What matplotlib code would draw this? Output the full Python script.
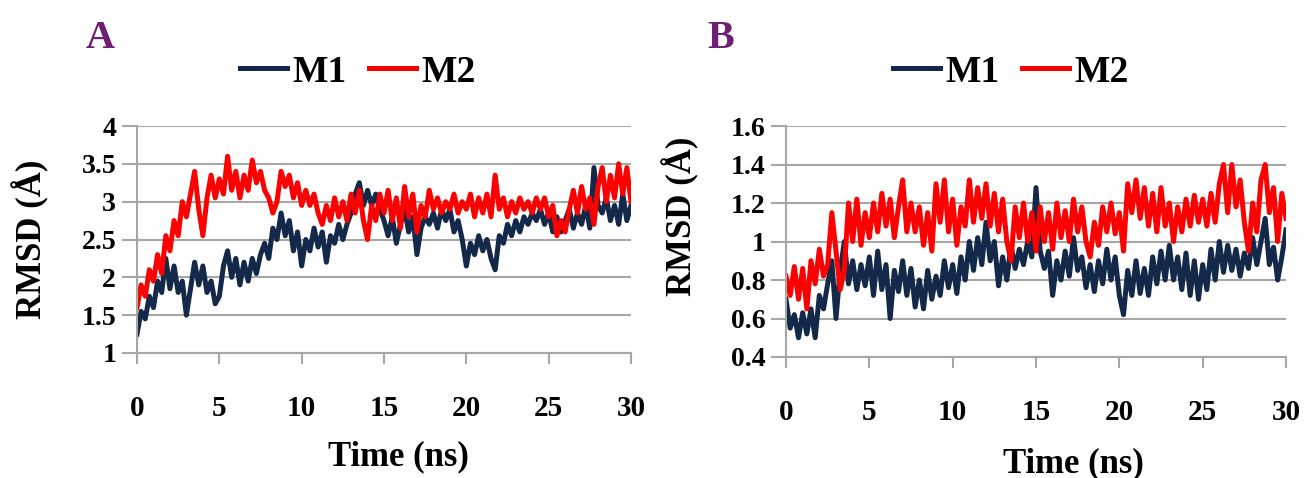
import numpy as np
import matplotlib
matplotlib.use('Agg')
import matplotlib.pyplot as plt

# time axis (ns), values read every 0.25 ns
time_ns = np.arange(121) * 0.25

a_m1 = [1.25, 1.55, 1.45, 1.75, 1.60, 1.95, 1.80, 2.25, 1.85, 2.15, 1.80, 1.95, 1.50, 1.85, 2.20, 1.90,
        2.15, 1.80, 1.95, 1.65, 1.75, 2.15, 2.35, 2.00, 2.25, 1.90, 2.20, 1.95, 2.25, 2.05, 2.30, 2.45,
        2.25, 2.65, 2.50, 2.85, 2.55, 2.75, 2.35, 2.60, 2.15, 2.50, 2.35, 2.65, 2.40, 2.60, 2.20, 2.55,
        2.45, 2.70, 2.50, 2.70, 2.85, 3.10, 3.25, 2.95, 3.15, 2.95, 3.10, 2.90, 2.75, 2.55, 2.80, 2.45,
        2.70, 2.90, 2.60, 2.80, 2.30, 2.65, 2.80, 2.70, 2.85, 2.65, 2.90, 2.75, 2.90, 2.60, 2.75, 2.50,
        2.15, 2.45, 2.30, 2.55, 2.35, 2.50, 2.25, 2.10, 2.55, 2.45, 2.70, 2.55, 2.75, 2.60, 2.80, 2.70,
        2.85, 2.75, 2.90, 2.70, 2.85, 2.60, 2.80, 2.60, 2.75, 2.90, 2.65, 2.85, 2.70, 2.95, 2.65, 3.45,
        2.95, 2.85, 3.05, 2.75, 2.95, 2.70, 3.10, 2.75, 2.95]
a_m2 = [1.60, 1.90, 1.75, 2.10, 1.95, 2.30, 2.05, 2.55, 2.35, 2.75, 2.55, 3.00, 2.80, 3.10, 3.40, 2.90,
        2.55, 3.05, 3.35, 3.05, 3.30, 3.10, 3.60, 3.15, 3.40, 3.05, 3.35, 3.15, 3.55, 3.25, 3.40, 3.15,
        3.05, 2.85, 3.00, 3.40, 3.20, 3.35, 3.05, 3.25, 2.95, 3.15, 2.95, 3.10, 2.85, 2.70, 2.95, 2.75,
        3.05, 2.80, 3.00, 2.75, 3.10, 2.85, 3.15, 2.75, 2.50, 2.95, 2.75, 3.10, 2.85, 3.15, 2.75, 3.05,
        2.65, 3.20, 2.80, 3.10, 2.60, 2.95, 2.80, 3.15, 2.90, 3.05, 2.85, 3.00, 2.90, 3.10, 2.85, 3.00,
        2.90, 3.10, 2.80, 3.05, 2.85, 3.10, 2.80, 3.35, 2.90, 3.05, 2.80, 3.00, 2.85, 3.05, 2.90, 3.00,
        2.85, 3.05, 2.90, 3.05, 2.80, 2.95, 2.55, 2.75, 2.60, 2.90, 3.15, 2.85, 3.20, 2.90, 3.05, 2.70,
        3.20, 3.45, 3.00, 3.35, 3.05, 3.50, 3.10, 3.45, 3.00]

b_m1 = [0.70, 0.55, 0.62, 0.50, 0.63, 0.52, 0.65, 0.50, 0.72, 0.65, 0.78, 0.90, 0.60, 0.85, 1.00, 0.78,
        0.90, 0.75, 0.88, 0.77, 0.92, 0.72, 0.95, 0.75, 0.88, 0.60, 0.85, 0.74, 0.90, 0.72, 0.86, 0.66,
        0.80, 0.65, 0.85, 0.70, 0.82, 0.72, 0.90, 0.76, 0.88, 0.73, 0.92, 0.80, 1.00, 0.85, 1.02, 0.88,
        1.10, 0.90, 1.00, 0.77, 0.92, 0.80, 0.98, 0.86, 0.96, 0.88, 1.00, 0.92, 1.28, 0.95, 0.86, 0.95,
        0.72, 0.90, 0.80, 0.95, 0.82, 1.02, 0.85, 0.92, 0.76, 0.88, 0.74, 0.90, 0.78, 0.96, 0.80, 0.92,
        0.72, 0.62, 0.85, 0.72, 0.90, 0.73, 0.86, 0.72, 0.92, 0.78, 0.95, 0.80, 0.98, 0.80, 0.92, 0.75,
        0.94, 0.72, 0.90, 0.70, 0.88, 0.75, 0.96, 0.80, 1.00, 0.84, 0.98, 0.85, 0.96, 0.82, 0.94, 0.86,
        1.02, 0.88, 1.00, 1.12, 0.88, 0.97, 0.80, 0.92, 1.06]
b_m2 = [0.82, 0.72, 0.87, 0.70, 0.86, 0.65, 0.90, 0.78, 0.96, 0.82, 0.88, 1.15, 0.95, 0.75, 0.85, 1.20,
        1.00, 1.22, 0.98, 1.15, 1.02, 1.20, 1.05, 1.25, 1.08, 1.22, 1.02, 1.18, 1.32, 1.05, 1.20, 1.05,
        1.18, 0.98, 1.15, 0.95, 1.30, 1.10, 1.32, 1.05, 1.22, 0.98, 1.18, 1.08, 1.32, 1.10, 1.28, 1.12,
        1.30, 1.08, 1.25, 1.05, 1.22, 1.00, 0.90, 1.18, 1.02, 1.20, 1.00, 1.15, 0.95, 1.18, 1.00, 1.15,
        0.96, 1.20, 1.02, 1.16, 1.00, 1.22, 1.05, 1.18, 1.00, 0.92, 1.10, 0.98, 1.18, 1.05, 1.20, 1.04,
        1.15, 0.95, 1.30, 1.15, 1.32, 1.12, 1.28, 1.08, 1.25, 1.05, 1.28, 1.08, 1.20, 1.00, 1.18, 1.05,
        1.22, 1.08, 1.24, 1.10, 1.22, 1.08, 1.25, 1.10, 1.30, 1.40, 1.15, 1.40, 1.18, 1.32, 1.10, 0.95,
        1.20, 1.05, 1.32, 1.40, 1.15, 1.28, 1.00, 1.25, 1.12]

a_yticks = [1, 1.5, 2, 2.5, 3, 3.5, 4]
b_yticks = [0.4, 0.6, 0.8, 1.0, 1.2, 1.4, 1.6]
xticks = [0, 5, 10, 15, 20, 25, 30]

navy = '#14284a'
red = '#ff0000'
gray = '#a6a6a6'
purple = '#6e1f74'
serif = 'Liberation Serif'

W, H = 1305, 478
fig = plt.figure(figsize=(W / 100, H / 100), dpi=100)


def make_panel(rect, m1, m2, yticks, letter, letter_xy, legend_xy, xlab_xy, ylab_xy):
    ax = fig.add_axes(rect)
    ax.plot(time_ns, m1, color=navy, lw=3.6, label='M1')
    ax.plot(time_ns, m2, color=red, lw=3.6, label='M2')
    ax.set_xlim(0, 30)
    ax.set_ylim(yticks[0], yticks[-1])
    ax.set_xticks(xticks)
    ax.set_yticks(yticks)
    ax.set_yticklabels(['%g' % v for v in yticks])
    ax.grid(axis='y', color=gray, lw=1.5)
    ax.set_axisbelow(True)
    for s in ['top', 'right']:
        ax.spines[s].set_visible(False)
    for s in ['left', 'bottom']:
        ax.spines[s].set_color(gray)
        ax.spines[s].set_linewidth(1.5)
    ax.tick_params(axis='x', direction='out', length=8, width=1.5, color=gray, pad=22)
    ax.tick_params(axis='y', direction='out', length=11, width=1.5, color=gray, pad=4)
    for lab in ax.get_xticklabels():
        lab.set_fontfamily(serif)
        lab.set_fontweight('bold')
        lab.set_fontsize(21)
    for lab in ax.get_yticklabels():
        lab.set_fontfamily(serif)
        lab.set_fontweight('bold')
        lab.set_fontsize(20)
    ax.set_xlabel('Time (ns)', fontfamily=serif, fontweight='bold', fontsize=25)
    ax.xaxis.set_label_coords(xlab_xy[0], xlab_xy[1])
    ax.set_ylabel('RMSD (Å)', fontfamily=serif, fontweight='bold', fontsize=25, va='center')
    ax.yaxis.set_label_coords(ylab_xy[0], ylab_xy[1])
    ax.legend(loc='center', bbox_to_anchor=(legend_xy[0] / W, 1 - legend_xy[1] / H),
              bbox_transform=fig.transFigure, ncol=2, frameon=False,
              handlelength=1.25, handletextpad=0.15, columnspacing=0.6,
              prop={'family': serif, 'weight': 'bold', 'size': 27})
    fig.text(letter_xy[0] / W, 1 - letter_xy[1] / H, letter, color=purple,
             fontfamily=serif, fontweight='bold', fontsize=29, ha='center', va='center')
    return ax


make_panel([137 / W, 1 - 353 / H, 494 / W, 227 / H], a_m1, a_m2, a_yticks, 'A',
           (100, 38), (358, 72), (0.53, -0.385), (-0.215, 0.5))
make_panel([786 / W, 1 - 357 / H, 500 / W, 231 / H], b_m1, b_m2, b_yticks, 'B',
           (721, 38), (1011, 72), (0.575, -0.39), (-0.21, 0.61))

fig.savefig('out.png', dpi=100)
